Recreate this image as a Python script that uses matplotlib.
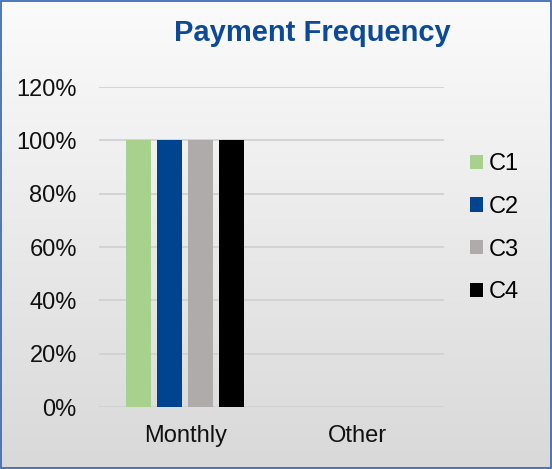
import numpy as np
import matplotlib
matplotlib.use("Agg")
import matplotlib.pyplot as plt
from matplotlib.patches import Rectangle
from matplotlib.ticker import PercentFormatter

plt.rcParams['font.family'] = ['Liberation Sans', 'DejaVu Sans']

# data
categories = ['Monthly', 'Other']
series_names = ['C1', 'C2', 'C3', 'C4']
c1 = [1.0, 0.0]
c2 = [1.0, 0.0]
c3 = [1.0, 0.0]
c4 = [1.0, 0.0]
y_ticks = [0, 0.2, 0.4, 0.6, 0.8, 1.0, 1.2]

colors = ['#A9D18E', '#00448F', '#AFABAB', '#000000']
values = [c1, c2, c3, c4]

fig = plt.figure(figsize=(5.52, 4.69), dpi=100)

# gradient background
bg = fig.add_axes([0, 0, 1, 1], zorder=-1)
grad = np.linspace(0, 1, 256).reshape(-1, 1)
top = np.array([0.985, 0.985, 0.985])
bot = np.array([0.85, 0.85, 0.85])
img = top + (bot - top) * grad[:, :, None]
bg.imshow(img, aspect='auto', extent=[0, 1, 0, 1])
bg.set_axis_off()
fig.patches.append(Rectangle((0.001, 0.002), 0.997, 0.995, transform=fig.transFigure,
                             fill=False, edgecolor='#3E6DB5', linewidth=1.3))

# plot area
ax = fig.add_axes([99/552, 62/469, 345/552, 320/469])
ax.set_facecolor('none')
x = np.arange(len(categories))
step = 0.18
width = 0.145
for i, (name, vals) in enumerate(zip(series_names, values)):
    ax.bar(x + (i - 1.5) * step, vals, width, color=colors[i], label=name, zorder=3)

ax.set_xlim(-0.5, len(categories) - 0.5)
ax.set_ylim(0, 1.2)
ax.set_yticks(y_ticks)
ax.yaxis.set_major_formatter(PercentFormatter(1.0, decimals=0))
ax.set_xticks(x)
ax.set_xticklabels(categories)
ax.tick_params(axis='both', length=0, labelsize=17, colors='#111111')
ax.tick_params(axis='y', pad=16)
ax.tick_params(axis='x', pad=13)
ax.grid(axis='y', color='#CFCFCF', linewidth=1.2, zorder=0)
for s in ax.spines.values():
    s.set_visible(False)

fig.text(312/552, 1 - 33/469, 'Payment Frequency', ha='center', va='center',
         fontsize=21, fontweight='bold', color='#0D4A96')

leg = fig.legend(loc='upper left', bbox_to_anchor=(470/552, 1 - 153/469), frameon=False,
                 fontsize=17, handlelength=0.55, handleheight=0.55, handletextpad=0.25,
                 labelspacing=0.88, borderaxespad=0, borderpad=0)

fig.savefig('out.png', dpi=100)
